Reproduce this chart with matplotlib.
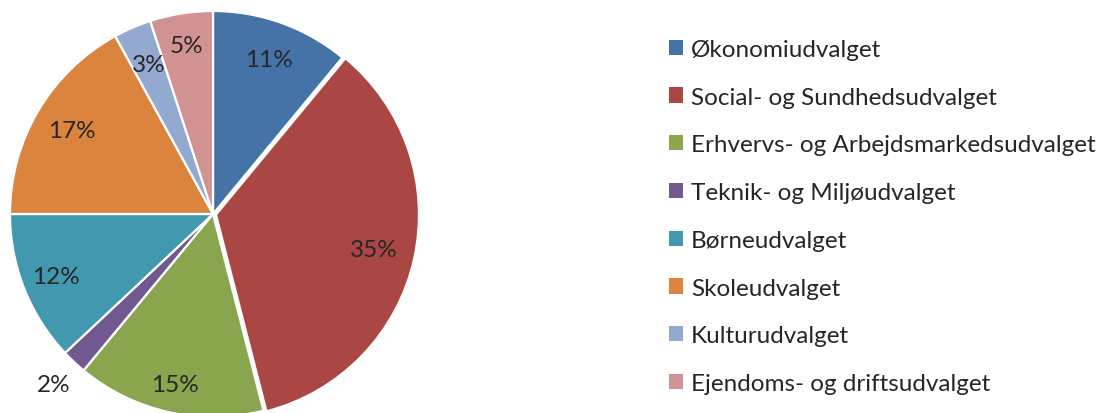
import matplotlib
matplotlib.use("Agg")
import matplotlib.pyplot as plt
from matplotlib.patches import Patch
import numpy as np

# udvalg og andel i procent
udvalg = ["Økonomiudvalget", "Social- og Sundhedsudvalget",
          "Erhvervs- og Arbejdsmarkedsudvalget", "Teknik- og Miljøudvalget",
          "Børneudvalget", "Skoleudvalget", "Kulturudvalget",
          "Ejendoms- og driftsudvalget"]
andel = [11, 35, 15, 2, 12, 17, 3, 5]
farver = ["#4572A7", "#AA4643", "#89A54E", "#71588F",
          "#4198AF", "#DB843D", "#93A9CF", "#D19392"]
explode = [0, 0.015, 0, 0, 0, 0, 0, 0]
label_r = [0.81, 0.81, 0.86, 1.15, 0.83, 0.81, 0.80, 0.84]

plt.rcParams['font.family'] = ['Lato', 'DejaVu Sans']
txt = "#262626"
fs = 17.5

fig = plt.figure(figsize=(11, 4.14), dpi=100)
ax = fig.add_axes([10 / 1100, -4 / 414, 406 / 1100, 406 / 414])

wedges, _ = ax.pie(andel, colors=farver, startangle=90, counterclock=False,
                   explode=explode, radius=1.0,
                   wedgeprops=dict(edgecolor="white", linewidth=1.6))
ax.set_xlim(-1, 1)
ax.set_ylim(-1, 1)
ax.set_aspect('equal')
ax.axis('off')

for w, v, r in zip(wedges, andel, label_r):
    mid = np.deg2rad((w.theta1 + w.theta2) / 2)
    ax.text(r * np.cos(mid), r * np.sin(mid), f"{v}%", ha='center',
            va='center', fontsize=fs, color=txt)

handles = [Patch(facecolor=c, edgecolor='none') for c in farver]
fig.legend(handles, udvalg, loc='upper left', bbox_to_anchor=(647 / 1100, 1 - 18 / 414),
           frameon=False, fontsize=fs, labelcolor=txt, handlelength=0.58,
           handleheight=0.58, handletextpad=0.33, labelspacing=1.10)

fig.savefig("out.png", dpi=100)
